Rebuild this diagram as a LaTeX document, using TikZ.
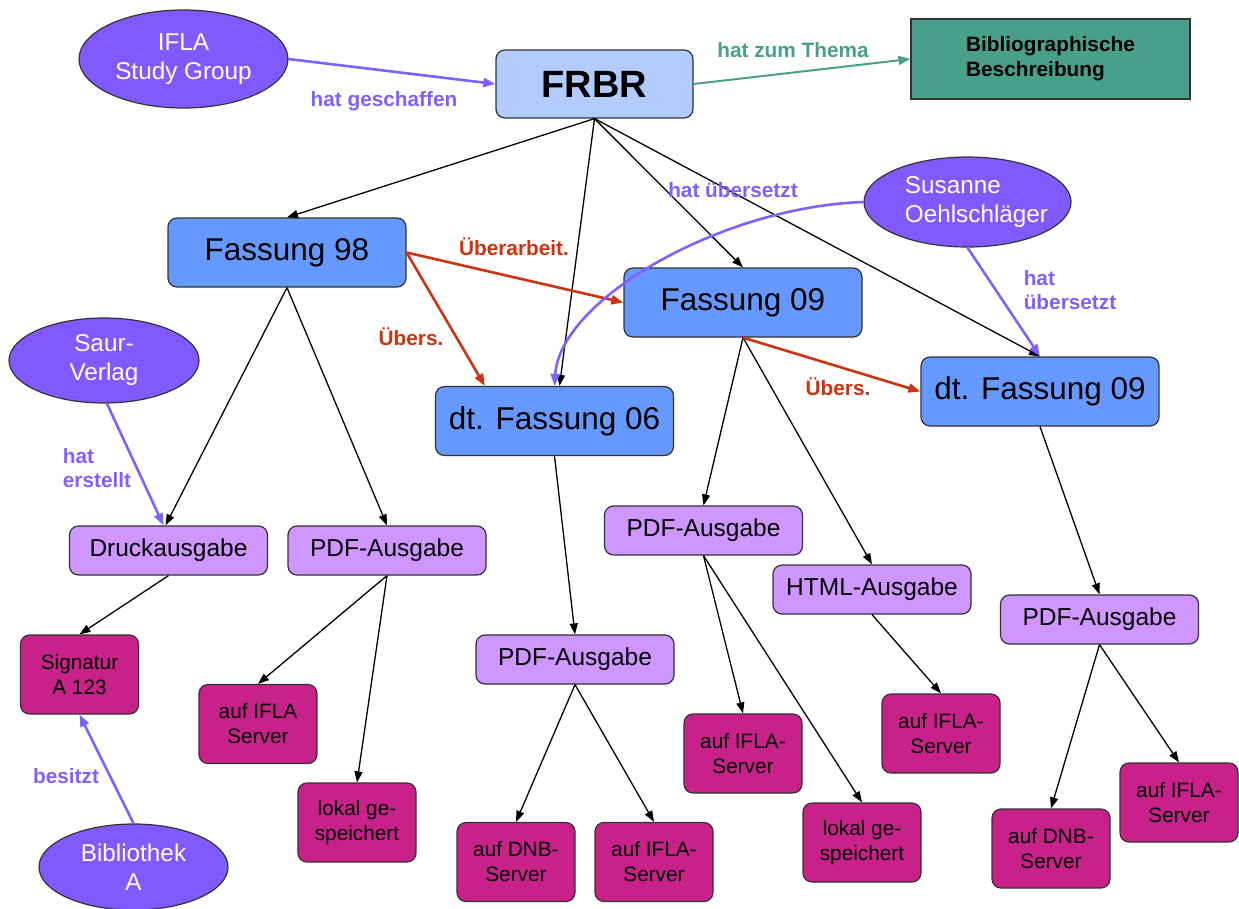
\documentclass[tikz,border=0pt]{standalone}
\usepackage{fontspec}
\setmainfont{Liberation Sans}
\usetikzlibrary{arrows.meta,shapes.geometric}
\definecolor{ellfill}{RGB}{128,90,255}
\definecolor{purp}{RGB}{128,96,255}
\definecolor{frbrfill}{RGB}{179,204,255}
\definecolor{fassfill}{RGB}{102,153,255}
\definecolor{lilac}{RGB}{208,150,255}
\definecolor{mag}{RGB}{200,34,138}
\definecolor{tealc}{RGB}{72,160,138}
\definecolor{redc}{RGB}{204,51,17}
\definecolor{edgegray}{RGB}{50,50,50}
\tikzset{
 box/.style={draw=edgegray, line width=1.2pt, rounded corners=9pt, inner sep=0pt, align=center},
 fass/.style={box, fill=fassfill, minimum width=238pt, minimum height=69pt, font=\fontsize{31.5}{35}\selectfont},
 ausg/.style={box, fill=lilac, minimum width=198pt, minimum height=49pt, font=\fontsize{24.5}{27}\selectfont},
 loc/.style={box, fill=mag, minimum width=118pt, minimum height=79pt, font=\fontsize{20.8}{25}\selectfont},
 agent/.style={ellipse, draw=edgegray, line width=1.2pt, fill=ellfill, text=white, inner xsep=-20pt, inner ysep=0pt, align=center, font=\fontsize{24.3}{29}\selectfont},
 lab/.style={font=\bfseries\fontsize{20.8}{24}\selectfont, align=left, inner sep=0pt},
 blk/.style={-{Triangle[length=11pt,width=8pt]}, line width=1.3pt},
 col/.style={-{Triangle[length=12pt,width=9pt]}, line width=2.6pt},
}
\begin{document}
\begin{tikzpicture}[x=1pt,y=-1pt]
\useasboundingbox (0,0) rectangle (1239,908);
% agents
\node[agent, minimum width=209pt, minimum height=98pt] (ifla) at (183.5,59) {IFLA\\Study Group};
\node[agent, minimum width=207pt, minimum height=90pt, align=left] (sus) at (967.5,202) {\hspace*{18pt}Susanne\\\hspace*{18pt}Oehlschläger};
\node[agent, minimum width=190pt, minimum height=85pt] (saur) at (104,360.5) {Saur-\\Verlag};
\node[agent, minimum width=189pt, minimum height=86pt] (bibA) at (133.5,867) {Bibliothek\\A};
% top
\node[box, fill=frbrfill, minimum width=197pt, minimum height=68pt, font=\bfseries\fontsize{38}{40}\selectfont] (frbr) at (594.5,84) {FRBR};
\node[draw=edgegray, line width=1.2pt, fill=tealc, minimum width=279pt, minimum height=80pt, inner sep=0pt, align=left, font=\bfseries\fontsize{20.8}{25}\selectfont] (bib) at (1050.5,59) {Bibliographische\\Beschreibung};
% versions
\node[fass] (f98) at (287,252.5) {Fassung 98};
\node[fass] (f09) at (743,302.5) {Fassung 09};
\node[fass] (dt06) at (554.5,421) {dt. Fassung 06};
\node[fass] (dt09) at (1040,391.5) {dt. Fassung 09};
% editions
\node[ausg] (druck) at (168.5,550.5) {Druckausgabe};
\node[ausg] (pdfa) at (387,550.5) {PDF-Ausgabe};
\node[ausg] (pdfb) at (575,659.5) {PDF-Ausgabe};
\node[ausg] (pdfc) at (703.5,530.5) {PDF-Ausgabe};
\node[ausg] (html) at (872,589.5) {HTML-Ausgabe};
\node[ausg] (pdfd) at (1099.5,619.5) {PDF-Ausgabe};
% locations
\node[loc] (sig) at (79.5,674.5) {Signatur\\A 123};
\node[loc] (ifa) at (258,724) {auf IFLA\\Server};
\node[loc] (lka) at (357,822.5) {lokal ge-\\speichert};
\node[loc] (dnbb) at (516,862) {auf DNB-\\Server};
\node[loc] (ifb) at (654,862) {auf IFLA-\\Server};
\node[loc] (ifc) at (743,753.5) {auf IFLA-\\Server};
\node[loc] (lkc) at (862,842.5) {lokal ge-\\speichert};
\node[loc] (ifh) at (941,733.5) {auf IFLA-\\Server};
\node[loc] (dnbd) at (1051,848.5) {auf DNB-\\Server};
\node[loc] (ifd) at (1179,802.5) {auf IFLA-\\Server};
% black edges
\draw[blk] (frbr.south) -- (f98.north);
\draw[blk] (frbr.south) -- ([xshift=5pt]dt06.north);
\draw[blk] (frbr.south) -- (f09.north);
\draw[blk] (frbr.south) -- (dt09.north);
\draw[blk] (f98.south) -- ([xshift=-3pt]druck.north);
\draw[blk] (f98.south) -- (pdfa.north);
\draw[blk] (dt06.south) -- (pdfb.north);
\draw[blk] (f09.south) -- (pdfc.north);
\draw[blk] (f09.south) -- (html.north);
\draw[blk] (dt09.south) -- (pdfd.north);
\draw[blk] (druck.south) -- (sig.north);
\draw[blk] (pdfa.south) -- (ifa.north);
\draw[blk] (pdfa.south) -- (lka.north);
\draw[blk] (pdfb.south) -- (dnbb.north);
\draw[blk] (pdfb.south) -- (ifb.north);
\draw[blk] (pdfc.south) -- (ifc.north);
\draw[blk] (pdfc.south) -- (lkc.north);
\draw[blk] (html.south) -- (ifh.north);
\draw[blk] (pdfd.south) -- (dnbd.north);
\draw[blk] (pdfd.south) -- (ifd.north);
% coloured edges
\draw[col, purp] (ifla.east) -- (frbr.west);
\draw[col, tealc, line width=2pt] (frbr.east) -- (bib.west);
\draw[col, redc] (f98.east) -- (f09.west);
\draw[col, redc] (f98.east) -- ([xshift=50pt]dt06.north west);
\draw[col, redc] (f09.south) -- (dt09.west);
\draw[col, purp] (sus.west) .. controls (720,207) and (560,300) .. (dt06.north);
\draw[col, purp] (sus.south) -- (dt09.north);
\draw[col, purp] ([xshift=3pt]saur.south) -- ([xshift=-5pt]druck.north);
\draw[col, purp] (bibA.north) -- (sig.south);
% labels
\node[lab, text=purp] (l1) at (384,101) {hat geschaffen};
\node[lab, text=tealc] (l2) at (793,50) {hat zum Thema};
\node[lab, text=redc] (l3) at (514,247) {Überarbeit.};
\node[lab, text=redc] (l4) at (411,337) {Übers.};
\node[lab, text=redc] (l5) at (838,387) {Übers.};
\node[lab, text=purp] (l6) at (733,190) {hat übersetzt};
\node[lab, text=purp] (l7) at (1070,290) {hat\\übersetzt};
\node[lab, text=purp] (l8) at (97,468) {hat\\erstellt};
\node[lab, text=purp] (l9) at (66,776) {besitzt};
\end{tikzpicture}
\end{document}
